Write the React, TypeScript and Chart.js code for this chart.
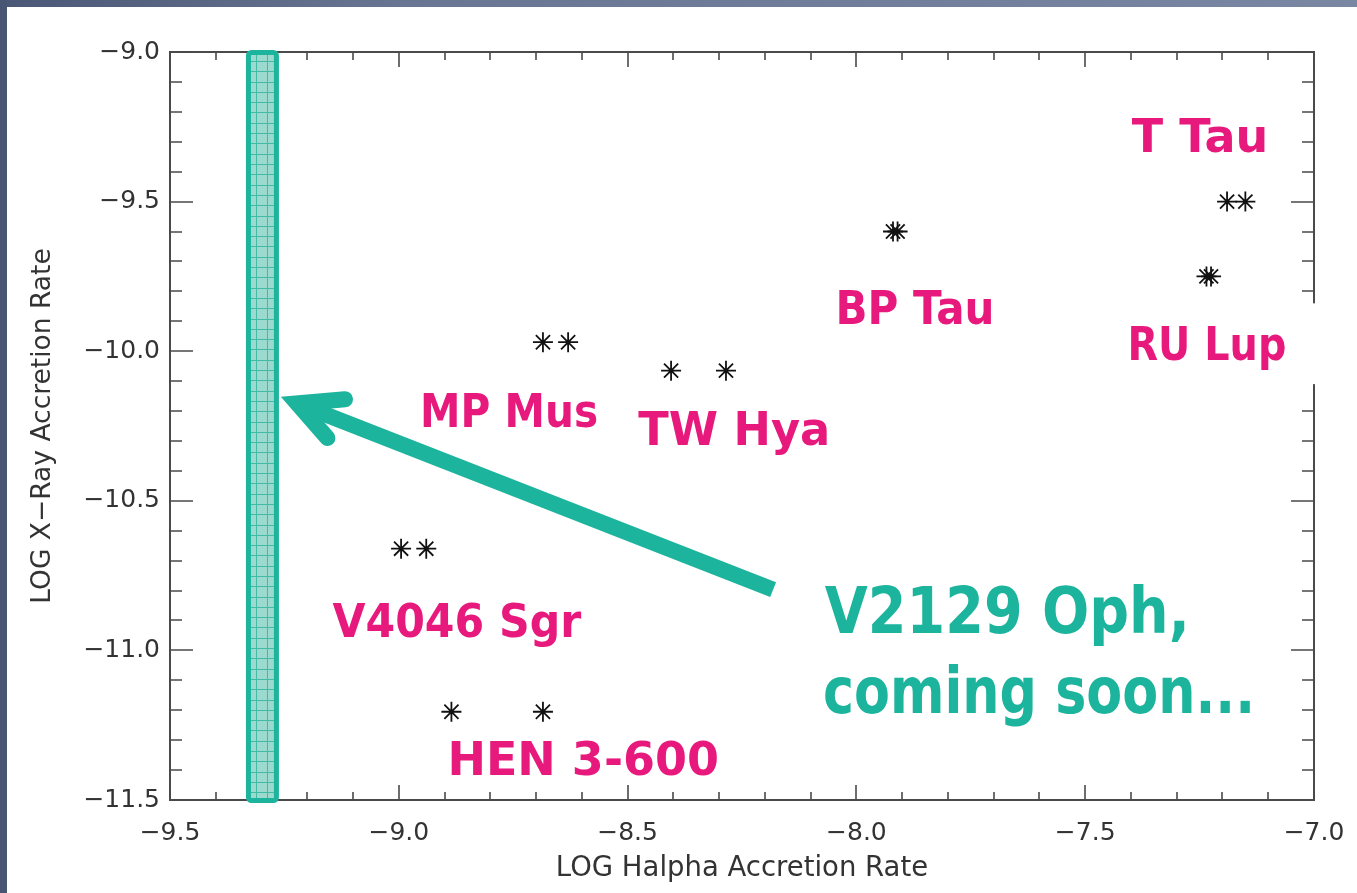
import React, { useEffect, useRef } from "react";
import { Chart, registerables } from "chart.js";

Chart.register(...registerables);

// ---- data ----
const xTickValues = [-9.5, -9.0, -8.5, -8.0, -7.5, -7.0];
const yTickValues = [-9.0, -9.5, -10.0, -10.5, -11.0, -11.5];

const stars = ["MP Mus", "TW Hya", "V4046 Sgr", "HEN 3-600", "BP Tau", "T Tau", "RU Lup"];
const halphaLow = [-8.685, -8.405, -8.995, -8.885, -7.92, -7.19, -7.235];
const halphaHigh = [-8.63, -8.285, -8.94, -8.685, -7.91, -7.15, -7.225];
const xrayRate = [-9.97, -10.065, -10.66, -11.205, -9.6, -9.5, -9.75];

// V2129 Oph: Halpha range known, X-ray unknown
const v2129Halpha = [-9.334, -9.262];

// ---- annotations (data coordinates) ----
const labelX = [-8.759, -8.267, -8.873, -8.597, -7.872, -7.249, -7.234];
const labelY = [-10.253, -10.312, -10.955, -11.416, -9.909, -9.334, -10.029];
const labelWidth = [178, 192, 249, 273, 159, 140, 159];
const arrowTail = [-8.182, -10.797];
const arrowTip = [-9.258, -10.153];
const comingLines = ["V2129 Oph,", "coming soon..."];
const comingX = [-8.069, -8.073];
const comingY = [-10.941, -11.208];
const comingWidth = [365, 432];

const PINK = "#e8197c";
const TEAL = "#1cb49d";
const AXIS = "#4a4a4a";

const fmt = (v: number | string) => {
  const n = Number(v);
  return (n < 0 ? "\u2212" : "") + Math.abs(n).toFixed(1);
};

export default function App() {
  const ref = useRef<HTMLCanvasElement>(null);

  useEffect(() => {
    const canvas = ref.current!;

    const overlay = {
      id: "overlay",
      beforeDraw(chart: any) {
        const { ctx, width, height } = chart;
        ctx.save();
        ctx.fillStyle = "#ffffff";
        ctx.fillRect(0, 0, width, height);
        const g = ctx.createLinearGradient(0, 0, width, 0);
        g.addColorStop(0, "#4a5776");
        g.addColorStop(0.3, "#687693");
        g.addColorStop(1, "#7a87a3");
        ctx.fillStyle = g;
        ctx.fillRect(0, 0, width, 7);
        ctx.fillStyle = "#485573";
        ctx.fillRect(0, 0, 7, height);
        ctx.restore();
      },
      beforeDatasetsDraw(chart: any) {
        const { ctx, chartArea, scales } = chart;
        const { left, right, top, bottom } = chartArea;
        const x = scales.x;
        const y = scales.y;
        ctx.save();
        ctx.strokeStyle = AXIS;
        ctx.lineWidth = 2;
        ctx.strokeRect(left, top, right - left, bottom - top);
        ctx.lineWidth = 1.6;
        ctx.beginPath();
        for (let i = 0; i <= 25; i++) {
          const px = Math.round(x.getPixelForValue(x.min + i * 0.1));
          const len = i % 5 === 0 ? 15 : 8;
          ctx.moveTo(px, bottom);
          ctx.lineTo(px, bottom - len);
          ctx.moveTo(px, top);
          ctx.lineTo(px, top + len);
        }
        for (let i = 0; i <= 25; i++) {
          const py = Math.round(y.getPixelForValue(y.min + i * 0.1));
          const len = i % 5 === 0 ? 23 : 12;
          ctx.moveTo(left, py);
          ctx.lineTo(left + len, py);
          ctx.moveTo(right, py);
          ctx.lineTo(right - len, py);
        }
        ctx.stroke();
        ctx.restore();
      },
      afterDraw(chart: any) {
        const { ctx, chartArea, scales } = chart;
        const { right, top, bottom } = chartArea;
        const x = scales.x;
        const y = scales.y;
        ctx.save();

        // white text box of the slide that hides part of the right axis
        const wbTop = y.getPixelForValue(-9.84);
        const wbBot = y.getPixelForValue(-10.11);
        ctx.fillStyle = "#ffffff";
        ctx.fillRect(right - 30, wbTop, 40, wbBot - wbTop);

        // V2129 Oph Halpha band
        const bl = x.getPixelForValue(v2129Halpha[0]);
        const br = x.getPixelForValue(v2129Halpha[1]);
        const bt = top - 2;
        const bb = bottom + 3;
        const lw = 5;
        ctx.fillStyle = "#9cdacf";
        ctx.fillRect(bl + lw / 2, bt + lw / 2, br - bl - lw, bb - bt - lw);
        ctx.strokeStyle = "#3fbba6";
        ctx.lineWidth = 1;
        ctx.beginPath();
        for (let gx = bl + lw + 5.5; gx < br - lw; gx += 10.5) {
          ctx.moveTo(Math.round(gx) + 0.5, bt + lw);
          ctx.lineTo(Math.round(gx) + 0.5, bb - lw);
        }
        for (let gy = bt + lw + 6; gy < bb - lw; gy += 10.3) {
          ctx.moveTo(bl + lw, Math.round(gy) + 0.5);
          ctx.lineTo(br - lw, Math.round(gy) + 0.5);
        }
        ctx.stroke();
        ctx.strokeStyle = TEAL;
        ctx.lineWidth = lw;
        ctx.beginPath();
        ctx.roundRect(bl + lw / 2, bt + lw / 2, br - bl - lw, bb - bt - lw, 3);
        ctx.stroke();

        // arrow (visual tip at arrowTip; miter vertex set back along the shaft)
        const tx = x.getPixelForValue(arrowTail[0]);
        const ty = y.getPixelForValue(arrowTail[1]);
        const px0 = x.getPixelForValue(arrowTip[0]);
        const py0 = y.getPixelForValue(arrowTip[1]);
        const ang = Math.atan2(ty - py0, tx - px0);
        const aw = 16;
        const half = 0.47;
        const setBack = aw / 2 / Math.sin(half);
        const hx = px0 + setBack * Math.cos(ang);
        const hy = py0 + setBack * Math.sin(ang);
        ctx.strokeStyle = TEAL;
        ctx.lineWidth = aw;
        ctx.lineCap = "butt";
        ctx.beginPath();
        ctx.moveTo(tx, ty);
        ctx.lineTo(hx + 6 * Math.cos(ang), hy + 6 * Math.sin(ang));
        ctx.stroke();
        ctx.lineCap = "round";
        ctx.lineJoin = "miter";
        ctx.miterLimit = 10;
        ctx.beginPath();
        ctx.moveTo(hx + 48 * Math.cos(ang - 0.46), hy + 48 * Math.sin(ang - 0.46));
        ctx.lineTo(hx, hy);
        ctx.lineTo(hx + 46 * Math.cos(ang + 0.48), hy + 46 * Math.sin(ang + 0.48));
        ctx.stroke();

        // star names
        ctx.fillStyle = PINK;
        ctx.font = 'bold 46px "DejaVu Sans"';
        ctx.textAlign = "center";
        ctx.textBaseline = "alphabetic";
        stars.forEach((name, i) => {
          ctx.fillText(name, x.getPixelForValue(labelX[i]), y.getPixelForValue(labelY[i]), labelWidth[i]);
        });

        // coming soon text
        ctx.fillStyle = TEAL;
        ctx.font = 'bold 64px "DejaVu Sans"';
        ctx.textAlign = "left";
        comingLines.forEach((t, i) => {
          ctx.fillText(t, x.getPixelForValue(comingX[i]), y.getPixelForValue(comingY[i]), comingWidth[i]);
        });
        ctx.restore();
      },
    };

    const chart = new Chart(canvas, {
      type: "scatter",
      data: {
        datasets: [
          {
            label: "Halpha low",
            data: stars.map((_, i) => ({ x: halphaLow[i], y: xrayRate[i] })),
          },
          {
            label: "Halpha high",
            data: stars.map((_, i) => ({ x: halphaHigh[i], y: xrayRate[i] })),
          },
        ].map((d) => ({
          ...d,
          pointStyle: "star",
          pointRadius: 10,
          pointHoverRadius: 10,
          borderColor: "#111111",
          backgroundColor: "#111111",
          borderWidth: 1.8,
          showLine: false,
        })),
      },
      options: {
        responsive: false,
        animation: false,
        events: [],
        layout: { padding: { left: 0, top: 52, right: 43, bottom: 0 } },
        plugins: {
          legend: { display: false },
          tooltip: { enabled: false },
        },
        scales: {
          x: {
            type: "linear",
            min: xTickValues[0],
            max: xTickValues[xTickValues.length - 1],
            afterFit(s: any) {
              s.height = 93;
              s.paddingLeft = 0;
              s.paddingRight = 0;
            },
            afterBuildTicks(s: any) {
              s.ticks = xTickValues.map((v) => ({ value: v }));
            },
            grid: { display: false, drawTicks: false, tickLength: 0 },
            border: { display: false },
            ticks: {
              padding: 18,
              color: "#333333",
              font: { family: "DejaVu Sans", size: 25 },
              callback: fmt,
              maxRotation: 0,
              autoSkip: false,
            },
            title: {
              display: true,
              text: "LOG Halpha Accretion Rate",
              color: "#333333",
              font: { family: "DejaVu Sans", size: 27.5 },
              padding: { top: 0, bottom: 8 },
            },
          },
          y: {
            type: "linear",
            min: yTickValues[yTickValues.length - 1],
            max: yTickValues[0],
            afterFit(s: any) {
              s.width = 170;
              s.paddingTop = 0;
              s.paddingBottom = 0;
            },
            afterBuildTicks(s: any) {
              s.ticks = yTickValues.map((v) => ({ value: v }));
            },
            grid: { display: false, drawTicks: false, tickLength: 0 },
            border: { display: false },
            ticks: {
              padding: 10,
              color: "#333333",
              font: { family: "DejaVu Sans", size: 25 },
              callback: fmt,
              autoSkip: false,
            },
            title: {
              display: true,
              text: "LOG X\u2212Ray Accretion Rate",
              color: "#333333",
              font: { family: "DejaVu Sans", size: 26.5 },
              padding: { top: 27, bottom: 0 },
            },
          },
        },
      },
      plugins: [overlay],
    } as any);

    return () => chart.destroy();
  }, []);

  return (
    <div style={{ position: "fixed", left: 0, top: 0, width: 1357, height: 893, background: "#fff" }}>
      <canvas ref={ref} width={1357} height={893} style={{ display: "block" }} />
    </div>
  );
}
